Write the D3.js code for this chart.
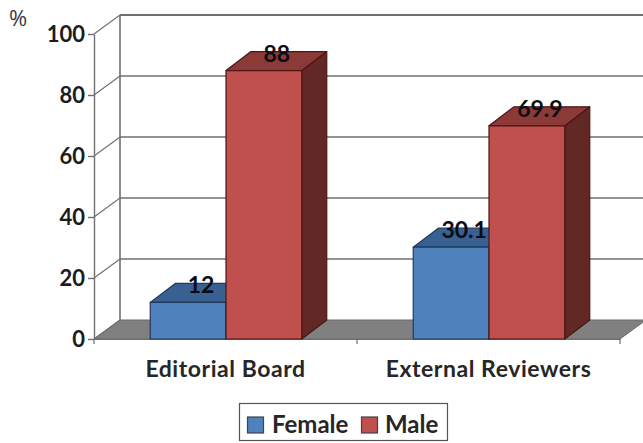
<!DOCTYPE html>
<html><head><meta charset="utf-8">
<script src="https://cdn.jsdelivr.net/npm/d3@7"></script>
<style>html,body{margin:0;padding:0;background:#fff}svg{display:block}text{font-family:Lato,"Open Sans",sans-serif}</style>
</head><body><svg width="643" height="443"></svg>
<script>
const categories = ["Editorial Board", "External Reviewers"];
const seriesNames = ["Female", "Male"];
const femaleValues = [12, 30.1];
const maleValues = [88, 69.9];
const valueLabels = [["12", "30.1"], ["88", "69.9"]];
const yTicks = [0, 20, 40, 60, 80, 100];
const faceColors = ["#4f81bd", "#c0504d"];
const topColors = ["#386192", "#8c3a38"];
const sideColors = ["#2c4d75", "#622826"];
const edgeColors = ["#1f3a5c", "#4a1513"];

const svg = d3.select("svg");
const y = d3.scaleLinear().domain([0, 100]).range([339, 34]);
const x = d3.scaleBand().domain(categories).range([94, 620]);
const inner = d3.scaleBand().domain(seriesNames).range([0, 151.5]);
const dx = 26, dy = -19, barDx = 25;
const pts = a => a.map(p => p.join(",")).join(" ");
const gridColor = "#6f6f6f";

// floor
svg.append("polygon").attr("fill", "#808080").attr("stroke", "#6b6b6b").attr("stroke-width", 1)
  .attr("points", pts([[94, y(0)], [94 + dx, y(0) + dy], [620 + dx, y(0) + dy], [620, y(0)]]));

// back wall, side wall, gridlines
svg.append("line").attr("x1", 120).attr("x2", 120).attr("y1", y(100) + dy).attr("y2", y(0) + dy)
  .attr("stroke", gridColor).attr("stroke-width", 1.6);
svg.selectAll(".grid").data(yTicks.filter(d => d > 0)).join("line")
  .attr("x1", 120).attr("x2", 643).attr("y1", d => y(d) + dy).attr("y2", d => y(d) + dy)
  .attr("stroke", gridColor).attr("stroke-width", d => d === 100 ? 1.8 : 1.4);
svg.selectAll(".slant").data(yTicks).join("line")
  .attr("x1", 94).attr("x2", 120).attr("y1", d => y(d)).attr("y2", d => y(d) + dy)
  .attr("stroke", gridColor).attr("stroke-width", 1.1);

// axes
const yAxis = d3.axisLeft(y).tickValues(yTicks).tickSize(6).tickSizeOuter(0).tickPadding(3);
const gy = svg.append("g").attr("transform", "translate(94,0)").call(yAxis);
gy.selectAll("line,path").attr("stroke", gridColor).attr("stroke-width", 1.4);
gy.selectAll("text").attr("font-size", 22).attr("font-weight", 700).attr("fill", "#1c1c1c").attr("dy", "0.34em");

const xAxis = d3.axisBottom(x).tickValues([]).tickSizeOuter(0);
const gx = svg.append("g").attr("transform", "translate(0,339)").call(xAxis);
gx.select("path").attr("stroke", gridColor).attr("stroke-width", 1.2);
svg.selectAll(".xtick").data(x.domain().concat(["end"])).join("line")
  .attr("x1", (d, i) => 94 + i * x.bandwidth()).attr("x2", (d, i) => 94 + i * x.bandwidth())
  .attr("y1", 339).attr("y2", 344)
  .attr("stroke", gridColor).attr("stroke-width", 1.2);
svg.selectAll(".xlabel").data(categories).join("text")
  .attr("x", d => x(d) + x.bandwidth() / 2).attr("y", 377)
  .attr("text-anchor", "middle").attr("font-size", 23).attr("font-weight", 700).attr("fill", "#262626")
  .attr("letter-spacing", 0.55)
  .text(d => d);

// bars
const series = [femaleValues, maleValues];
const groupPad = (x.bandwidth() - 151.5) / 2;
const barX = (si, ci) => x(categories[ci]) + groupPad + 0.5 + inner(seriesNames[si]);
[0, 1].forEach(ci => {
  [0, 1].forEach(si => {
    const x0 = barX(si, ci), x1 = x0 + inner.bandwidth(), top = y(series[si][ci]), base = y(0);
    const g = svg.append("g").attr("stroke", edgeColors[si]).attr("stroke-width", 1.2).attr("stroke-linejoin", "round");
    g.append("polygon").attr("fill", sideColors[si])
      .attr("points", pts([[x1, top], [x1 + barDx, top + dy], [x1 + barDx, base + dy], [x1, base]]));
    g.append("polygon").attr("fill", topColors[si])
      .attr("points", pts([[x0, top], [x0 + barDx, top + dy], [x1 + barDx, top + dy], [x1, top]]));
    g.append("rect").attr("x", x0).attr("y", top).attr("width", x1 - x0).attr("height", base - top)
      .attr("fill", faceColors[si]);
  });
});
// value labels
[0, 1].forEach(si => [0, 1].forEach(ci => {
  svg.append("text")
    .attr("x", barX(si, ci) + inner.bandwidth() / 2 + 13)
    .attr("y", y(series[si][ci]) + dy + 10)
    .attr("text-anchor", "middle").attr("font-size", 23).attr("font-weight", 700).attr("fill", "#0c0c14")
    .text(valueLabels[si][ci]);
}));

// percent
svg.append("text").attr("x", 9).attr("y", 26).attr("font-size", 22).attr("fill", "#3a3a3a")
  .style("font-family", "'Open Sans',sans-serif").text("%");

// legend
svg.append("rect").attr("x", 239.5).attr("y", 403.5).attr("width", 208).attr("height", 37)
  .attr("fill", "#fff").attr("stroke", "#555").attr("stroke-width", 1.2);
const legendSwatchX = [247.5, 361.5], legendTextX = [272, 385];
seriesNames.forEach((n, i) => {
  svg.append("rect").attr("x", legendSwatchX[i]).attr("y", 417).attr("width", 16).attr("height", 16)
    .attr("fill", faceColors[i]).attr("stroke", "#444").attr("stroke-width", 1.2);
  svg.append("text").attr("x", legendTextX[i]).attr("y", 433).attr("font-size", 24).attr("font-weight", 700)
    .attr("fill", "#262626").text(n);
});
</script></body></html>
